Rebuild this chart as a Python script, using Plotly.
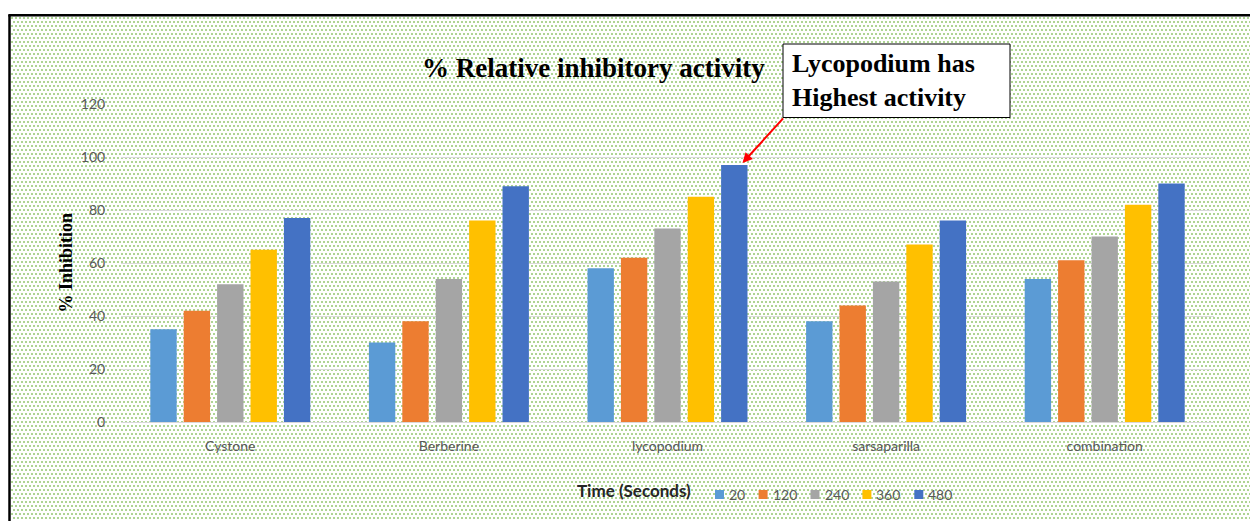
import base64
import plotly.graph_objects as go

# ---- data ----
categories = ["Cystone", "Berberine", "lycopodium", "sarsaparilla", "combination"]
series_names = ["20", "120", "240", "360", "480"]
vals_20 = [35, 30, 58, 38, 54]
vals_120 = [42, 38, 62, 44, 61]
vals_240 = [52, 54, 73, 53, 70]
vals_360 = [65, 76, 85, 67, 82]
vals_480 = [77, 89, 97, 76, 90]
y_ticks = [0, 20, 40, 60, 80, 100, 120]

series_values = [vals_20, vals_120, vals_240, vals_360, vals_480]
colors = ["#5b9bd5", "#ed7d31", "#a5a5a5", "#ffc000", "#4472c4"]

W, H = 1250, 521
ML, MR, MT, MB = 121, 36, 104, 99
PW = W - ML - MR
PH = H - MT - MB


def px_x(p):
    return (p - ML) / PW


def px_y(p):
    return (H - MB - p) / PH


fig = go.Figure()
for name, vals, col in zip(series_names, series_values, colors):
    fig.add_trace(go.Bar(x=categories, y=vals, name=name, showlegend=False,
                         marker=dict(color=col, line=dict(width=0))))

# dotted green background pattern (staggered dots)
bw, bh = W - 11, H - 17
svg = (
    f'<svg xmlns="http://www.w3.org/2000/svg" width="{bw}" height="{bh}" shape-rendering="crispEdges">'
    '<defs><pattern id="p" width="4" height="8" patternUnits="userSpaceOnUse">'
    '<rect width="4" height="8" fill="#ffffff"/>'
    '<rect x="0" y="0" width="2" height="2" fill="#aed594"/>'
    '<rect x="2" y="4" width="2" height="2" fill="#aed594"/>'
    '</pattern></defs>'
    f'<rect width="{bw}" height="{bh}" fill="url(#p)"/></svg>'
)
src = "data:image/svg+xml;base64," + base64.b64encode(svg.encode()).decode()

fig.add_layout_image(dict(
    source=src, xref="paper", yref="paper",
    x=px_x(11), y=px_y(17), sizex=bw / PW, sizey=bh / PH,
    xanchor="left", yanchor="top", sizing="stretch", layer="below",
))

# frame lines
fig.add_shape(type="line", xref="paper", yref="paper",
              x0=px_x(9.5), x1=px_x(9.5), y0=px_y(15), y1=px_y(540),
              line=dict(color="black", width=2.5))
fig.add_shape(type="line", xref="paper", yref="paper",
              x0=px_x(8.3), x1=px_x(1270), y0=px_y(15.3), y1=px_y(15.3),
              line=dict(color="black", width=2.5))

# callout box
fig.add_shape(type="rect", xref="paper", yref="paper",
              x0=px_x(783), x1=px_x(1010), y0=px_y(44), y1=px_y(117.5),
              line=dict(color="black", width=1), fillcolor="white")
fig.add_annotation(xref="paper", yref="paper", x=px_x(790), y=px_y(81),
                   xanchor="left", yanchor="middle", align="left", showarrow=False,
                   text="<b>Lycopodium has<br>Highest activity</b>",
                   font=dict(family="Liberation Serif", size=26, color="black"))
# arrow to top of lycopodium 480 bar
fig.add_annotation(x=categories[2], y=vals_480[2], xref="x", yref="y",
                   xshift=75, yshift=2, ax=42, ay=-46, text="",
                   showarrow=True, arrowcolor="#ff0000", arrowwidth=2,
                   arrowhead=2, arrowsize=1)

# title
fig.add_annotation(xref="paper", yref="paper", x=px_x(593), y=px_y(68),
                   xanchor="center", yanchor="middle", showarrow=False,
                   text="<b>% Relative inhibitory activity</b>",
                   font=dict(family="Liberation Serif", size=27, color="black"))
# y-axis title
fig.add_annotation(xref="paper", yref="paper", x=px_x(65.5), y=px_y(263),
                   xanchor="center", yanchor="middle", showarrow=False, textangle=-90,
                   text="<b>% Inhibition</b>",
                   font=dict(family="Liberation Serif", size=18, color="black"))

# legend (drawn as swatches + labels, Excel style)
fig.add_annotation(xref="paper", yref="paper", x=px_x(634), y=px_y(490),
                   xanchor="center", yanchor="middle", showarrow=False,
                   text="<b>Time (Seconds)</b>",
                   font=dict(family="Lato", size=17, color="#262626"))
lx = 715
for name, col in zip(series_names, colors):
    fig.add_shape(type="rect", xref="paper", yref="paper",
                  x0=px_x(lx), x1=px_x(lx + 9), y0=px_y(490), y1=px_y(499),
                  line=dict(width=0), fillcolor=col)
    fig.add_annotation(xref="paper", yref="paper", x=px_x(lx + 12), y=px_y(494),
                       xanchor="left", yanchor="middle", showarrow=False,
                       text=name, font=dict(family="Lato", size=14, color="#595959"))
    lx += 9 + 3 + 8.3 * len(name) + 15

fig.update_layout(
    width=W, height=H,
    margin=dict(l=ML, r=MR, t=MT, b=MB, pad=0),
    paper_bgcolor="white", plot_bgcolor="rgba(0,0,0,0)",
    barmode="group", bargap=0.236, bargroupgap=0.21,
    showlegend=False,
    xaxis=dict(
        showgrid=False, showline=False, zeroline=False,
        ticks="outside", ticklen=11, tickcolor="rgba(0,0,0,0)",
        tickfont=dict(family="Lato", size=14, color="#595959"),
    ),
    yaxis=dict(
        range=[0, 120], tickvals=y_ticks, ticktext=[str(v) for v in y_ticks],
        showgrid=True, gridcolor="#d9d9d9", gridwidth=1,
        zeroline=True, zerolinecolor="#d9d9d9", zerolinewidth=1, showline=False,
        ticks="outside", ticklen=12, tickcolor="rgba(0,0,0,0)",
        tickfont=dict(family="Lato", size=14, color="#595959"),
    ),
)

fig.write_html("out.html", config={"displayModeBar": False},
               post_script="document.body.style.margin='0';document.body.style.overflow='hidden';")
